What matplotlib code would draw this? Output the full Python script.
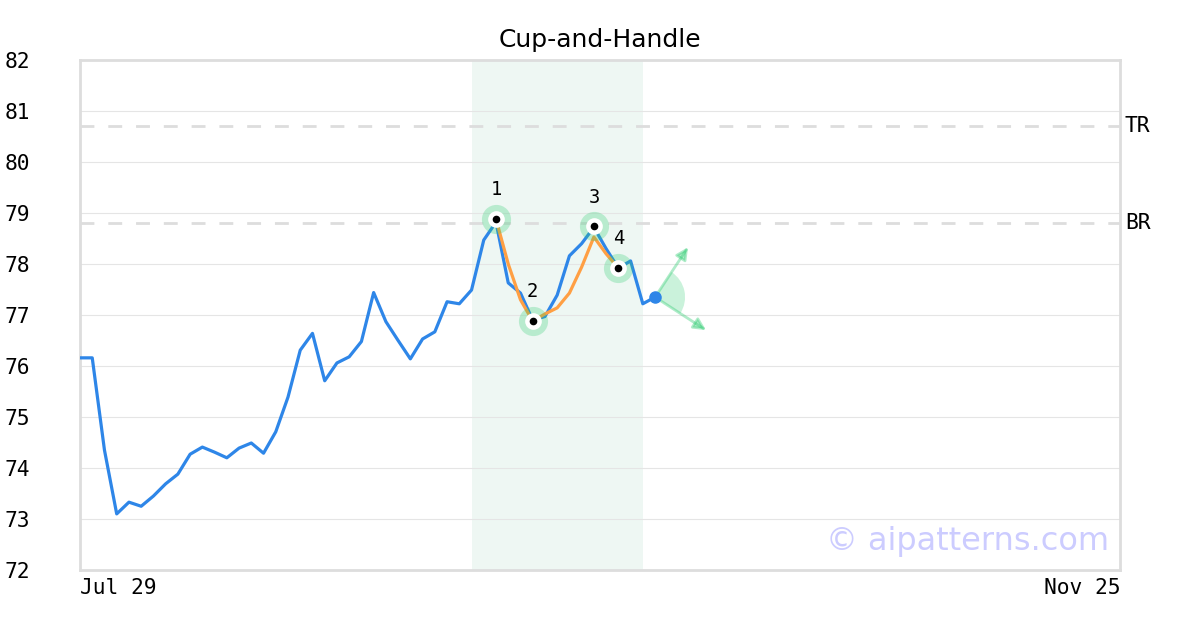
import matplotlib.pyplot as plt
from matplotlib.patches import Wedge
from matplotlib.transforms import ScaledTranslation

# closing prices, one per trading day from Jul 29
prices = [76.16, 76.16, 74.35, 73.10, 73.33, 73.25, 73.45, 73.69, 73.88, 74.27,
          74.41, 74.31, 74.20, 74.39, 74.49, 74.29, 74.71, 75.39, 76.31, 76.64,
          75.71, 76.06, 76.18, 76.48, 77.44, 76.87, 76.50, 76.14, 76.53, 76.67,
          77.26, 77.22, 77.49, 78.47, 78.82, 77.63, 77.43, 76.90, 76.97, 77.39,
          78.16, 78.40, 78.72, 78.30, 77.92, 78.06, 77.22, 77.35]

# smoothed pattern fit
fit_idx = [34, 35, 36, 37, 38, 39, 40, 41, 42, 43, 44]
fit_vals = [78.88, 78.00, 77.30, 76.88, 77.02, 77.14, 77.43, 77.94, 78.53, 78.20, 77.92]

# pivot points
pivot_idx = [34, 37, 42, 44]
pivot_vals = [78.88, 76.88, 78.74, 77.92]
pivot_labels = ['1', '2', '3', '4']

top_res = 80.71
bot_res = 78.80
span = (32, 46)
n_days = 85
x_labels = ['Jul 29', 'Nov 25']

blue = '#2e86e8'
orange = '#ff9f43'
green = '#2ecc71'
mono = 'DejaVu Sans Mono'

fig = plt.figure(figsize=(12, 6.3), dpi=100)
ax = fig.add_axes([80 / 1200, 60 / 630, 1040 / 1200, 510 / 630])

ax.axvspan(span[0], span[1], color='#eef7f3', lw=0, zorder=0)
ax.axhline(top_res, color='#dddddd', lw=2, ls=(0, (5, 5)), zorder=1)
ax.axhline(bot_res, color='#dddddd', lw=2, ls=(0, (5, 5)), zorder=1)

ax.plot(range(len(prices)), prices, color=blue, lw=2.3, zorder=3)
ax.plot(fit_idx, fit_vals, color=orange, lw=2.3, zorder=4)

ax.plot(pivot_idx, pivot_vals, 'o', ms=21, color=green, alpha=0.28, mew=0, zorder=5)
ax.plot(pivot_idx, pivot_vals, 'o', ms=12, color='white', mew=0, zorder=6)
ax.plot(pivot_idx, pivot_vals, 'o', ms=5.5, color='black', mew=0, zorder=7)
for i, v, t in zip(pivot_idx, pivot_vals, pivot_labels):
    ax.annotate(t, (i, v), xytext=(0, 21), textcoords='offset points',
                ha='center', va='center', fontsize=13.5, family=mono, zorder=8)

# breakout projection
last_x, last_y = len(prices) - 1, prices[-1]
ax.plot(last_x, last_y, 'o', ms=8, color=blue, zorder=9)
for dx, dy in [(33, 50), (51, -33)]:
    ax.annotate('', xy=(last_x, last_y), xytext=(dx * 0.72, dy * 0.72),
                textcoords='offset points', zorder=8,
                arrowprops=dict(arrowstyle='<|-', color=green, alpha=0.38, lw=2,
                                mutation_scale=18, shrinkA=0, shrinkB=0))
wedge = Wedge((0, 0), 0.3, -33, 57, color=green, alpha=0.25, lw=0,
              transform=fig.dpi_scale_trans + ScaledTranslation(last_x, last_y, ax.transData))
ax.add_patch(wedge)

ax.set_xlim(0, n_days)
ax.set_ylim(72, 82)
ax.set_yticks(range(72, 83))
ax.yaxis.grid(True, color='#e5e5e5', lw=0.8)
ax.set_axisbelow(True)
ax.set_xticks([0, n_days])
ax.set_xticklabels(x_labels, family=mono, fontsize=15.3)
ax.get_xticklabels()[0].set_ha('left')
ax.get_xticklabels()[1].set_ha('right')
ax.tick_params(axis='x', length=0, pad=6)
ax.tick_params(axis='y', length=0, pad=54, labelsize=15.3)
for lab in ax.get_yticklabels():
    lab.set_family(mono)
    lab.set_ha('left')
for s in ax.spines.values():
    s.set_color('#dddddd')
    s.set_linewidth(2)

ax.text(n_days + 0.4, top_res, 'TR', family=mono, fontsize=15.3, va='center', ha='left')
ax.text(n_days + 0.4, bot_res, 'BR', family=mono, fontsize=15.3, va='center', ha='left')
ax.set_title('Cup-and-Handle', fontsize=18, pad=9)
ax.text(0.99, 0.055, '\u00a9 aipatterns.com', transform=ax.transAxes, ha='right',
        va='center', fontsize=23, color='#ccccff', zorder=10)

fig.savefig('out.png', dpi=100)
